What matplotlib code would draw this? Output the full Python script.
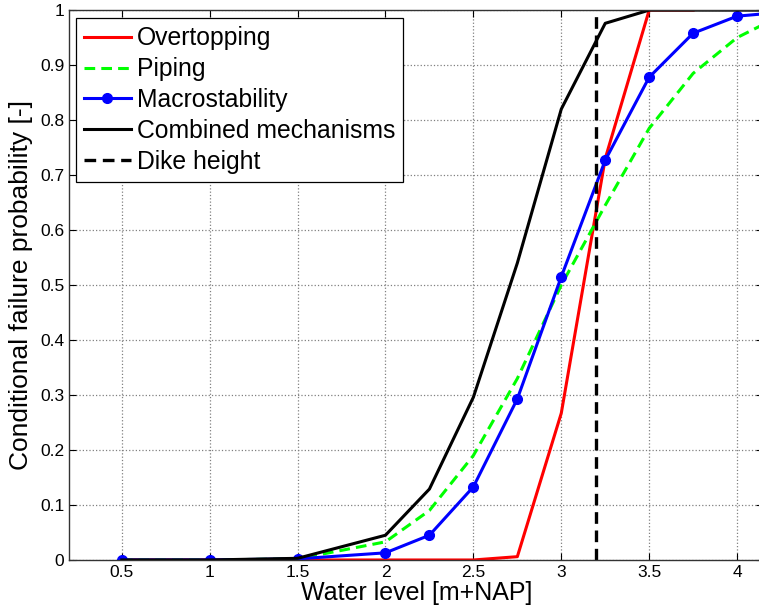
import numpy as np
import matplotlib.pyplot as plt

plt.rcParams['font.family'] = ['Liberation Sans', 'DejaVu Sans']

# Water level points (m+NAP)
x_pts = [0.5, 1.0, 1.5, 2.0, 2.25, 2.5, 2.75, 3.0, 3.25, 3.5, 3.75, 4.0, 4.25]

overtopping = [0.0, 0.0, 0.0, 0.0, 0.0, 0.0, 0.006, 0.267, 0.73, 1.0, 1.0, None, None]
piping = [0.0, 0.0, 0.002, 0.033, 0.09, 0.19, 0.33, 0.50, 0.645, 0.785, 0.885, 0.95, 0.99]
macro = [0.0, 0.0, 0.002, 0.013, 0.045, 0.133, 0.293, 0.515, 0.727, 0.878, 0.958, 0.989, 0.996]
combined = [0.0, 0.0, 0.003, 0.045, 0.129, 0.296, 0.54, 0.82, 0.976, 1.0, 1.0, 1.0, 1.0]
dike_height = 3.2

x_ticks = [0.5, 1, 1.5, 2, 2.5, 3, 3.5, 4]
y_ticks = [0, 0.1, 0.2, 0.3, 0.4, 0.5, 0.6, 0.7, 0.8, 0.9, 1]

fig = plt.figure(figsize=(7.59, 6.13), dpi=100)
ax = fig.add_axes([0.0909, 0.0865, 0.915, 0.897])

ot = np.array([np.nan if v is None else v for v in overtopping])
ax.plot(x_pts, ot, color='#ff0000', lw=2.2, label='Overtopping')
ax.plot(x_pts, piping, color='#00ff00', lw=2.2, ls=(0, (3.5, 2)), label='Piping')
ax.plot(x_pts, macro, color='#0000ff', lw=2.2, marker='o', ms=7, label='Macrostability')
ax.plot(x_pts, combined, color='black', lw=2.2, label='Combined mechanisms')
ax.axvline(dike_height, color='black', lw=2.4, ls=(0, (3.5, 2)), label='Dike height')

ax.set_xlim(0.2, 4.15)
ax.set_ylim(0, 1)
ax.set_xticks(x_ticks)
ax.set_xticklabels([f'{t:g}' for t in x_ticks])
ax.set_yticks(y_ticks)
ax.set_yticklabels([f'{t:g}' for t in y_ticks])
ax.tick_params(direction='in', top=True, right=True, labelsize=12.5, length=5)
ax.grid(True, ls=':', color='#808080', lw=0.9)
for s in ax.spines.values():
    s.set_linewidth(1.0)
    s.set_color('#333333')

ax.set_xlabel('Water level [m+NAP]', fontsize=18, labelpad=1)
ax.set_ylabel('Conditional failure probability [-]', fontsize=19, labelpad=5)

leg = ax.legend(loc='upper left', bbox_to_anchor=(0.01, 0.985), borderaxespad=0,
                fontsize=17.8, handlelength=1.9, handletextpad=0.25, borderpad=0.32,
                labelspacing=0.28, fancybox=False, framealpha=1, edgecolor='black')
leg.get_frame().set_linewidth(0.9)

fig.savefig('out.png', dpi=100)
